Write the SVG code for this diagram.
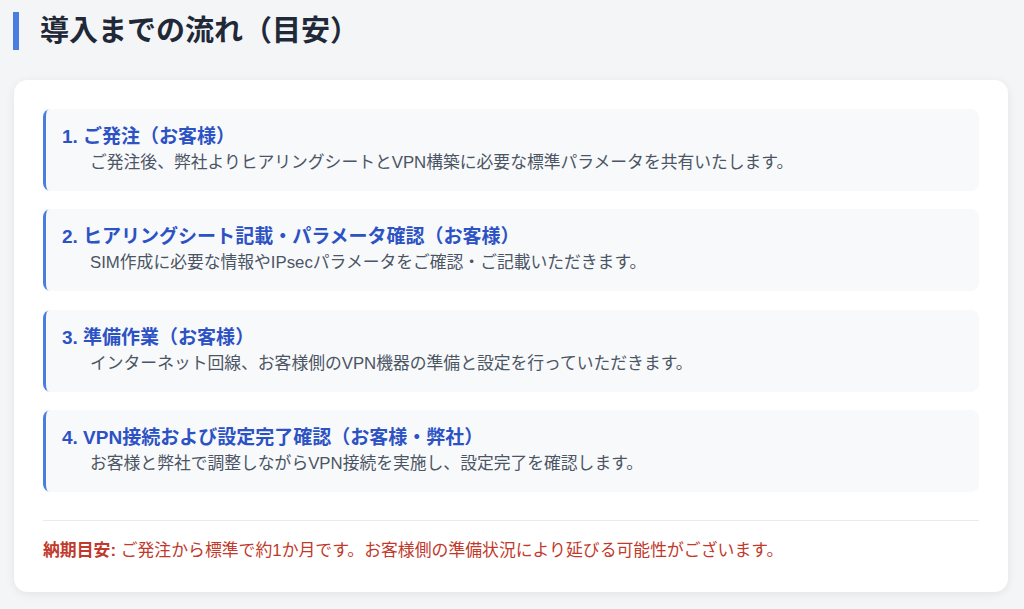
<svg xmlns="http://www.w3.org/2000/svg" width="1024" height="609" viewBox="0 0 1024 609">
<defs>
<filter id="sh" x="-5%" y="-5%" width="110%" height="115%">
<feDropShadow dx="0" dy="2" stdDeviation="4" flood-color="#000" flood-opacity="0.07"/>
</filter>
<style>
text{font-family:"Liberation Sans","Noto Sans CJK JP",sans-serif}
.h1{font-size:29px;font-weight:700;fill:#1f2937}
.st{font-size:19px;font-weight:700;fill:#2c52c4}
.ds{font-size:16.8px;fill:#4b5563}
.box{fill:#f8f9fb}
.bar{fill:#4a7de0}
.ft{font-size:16.85px;fill:#c0392b}
</style>
</defs>
<rect x="0" y="0" width="1024" height="609" fill="#f4f5f7"/>
<g id="title">
<rect x="13" y="12" width="6" height="38" fill="#4a7de0"/>
<text class="h1" x="40" y="41">導入までの流れ（目安）</text>
</g>
<rect id="card" x="14" y="80" width="994" height="512" rx="14" fill="#ffffff" filter="url(#sh)"/>
<g id="step1">
<rect class="bar" x="43" y="109" width="20" height="82" rx="8"/>
<path class="box" d="M49 109 H971 A8 8 0 0 1 979 117 V183 A8 8 0 0 1 971 191 H49 A3 8 0 0 1 46 183 V117 A3 8 0 0 1 49 109 Z"/>
<text class="st" x="62" y="143">1. ご発注（お客様）</text>
<text class="ds" x="90" y="168">ご発注後、弊社よりヒアリングシートとVPN構築に必要な標準パラメータを共有いたします。</text>
</g>
<g id="step2">
<rect class="bar" x="43" y="209" width="20" height="82" rx="8"/>
<path class="box" d="M49 209 H971 A8 8 0 0 1 979 217 V283 A8 8 0 0 1 971 291 H49 A3 8 0 0 1 46 283 V217 A3 8 0 0 1 49 209 Z"/>
<text class="st" x="62" y="243">2. ヒアリングシート記載・パラメータ確認（お客様）</text>
<text class="ds" x="90" y="268">SIM作成に必要な情報やIPsecパラメータをご確認・ご記載いただきます。</text>
</g>
<g id="step3">
<rect class="bar" x="43" y="310" width="20" height="82" rx="8"/>
<path class="box" d="M49 310 H971 A8 8 0 0 1 979 318 V384 A8 8 0 0 1 971 392 H49 A3 8 0 0 1 46 384 V318 A3 8 0 0 1 49 310 Z"/>
<text class="st" x="62" y="344">3. 準備作業（お客様）</text>
<text class="ds" x="90" y="369">インターネット回線、お客様側のVPN機器の準備と設定を行っていただきます。</text>
</g>
<g id="step4">
<rect class="bar" x="43" y="410" width="20" height="82" rx="8"/>
<path class="box" d="M49 410 H971 A8 8 0 0 1 979 418 V484 A8 8 0 0 1 971 492 H49 A3 8 0 0 1 46 484 V418 A3 8 0 0 1 49 410 Z"/>
<text class="st" x="62" y="444">4. VPN接続および設定完了確認（お客様・弊社）</text>
<text class="ds" x="90" y="469">お客様と弊社で調整しながらVPN接続を実施し、設定完了を確認します。</text>
</g>
<g id="connectors"></g>
<g id="footer">
<line x1="43" y1="520.5" x2="979" y2="520.5" stroke="#e8eaed" stroke-width="1"/>
<text class="ft" x="43" y="556"><tspan font-weight="700">納期目安:</tspan> ご発注から標準で約1か月です。お客様側の準備状況により延びる可能性がございます。</text>
</g>
</svg>
